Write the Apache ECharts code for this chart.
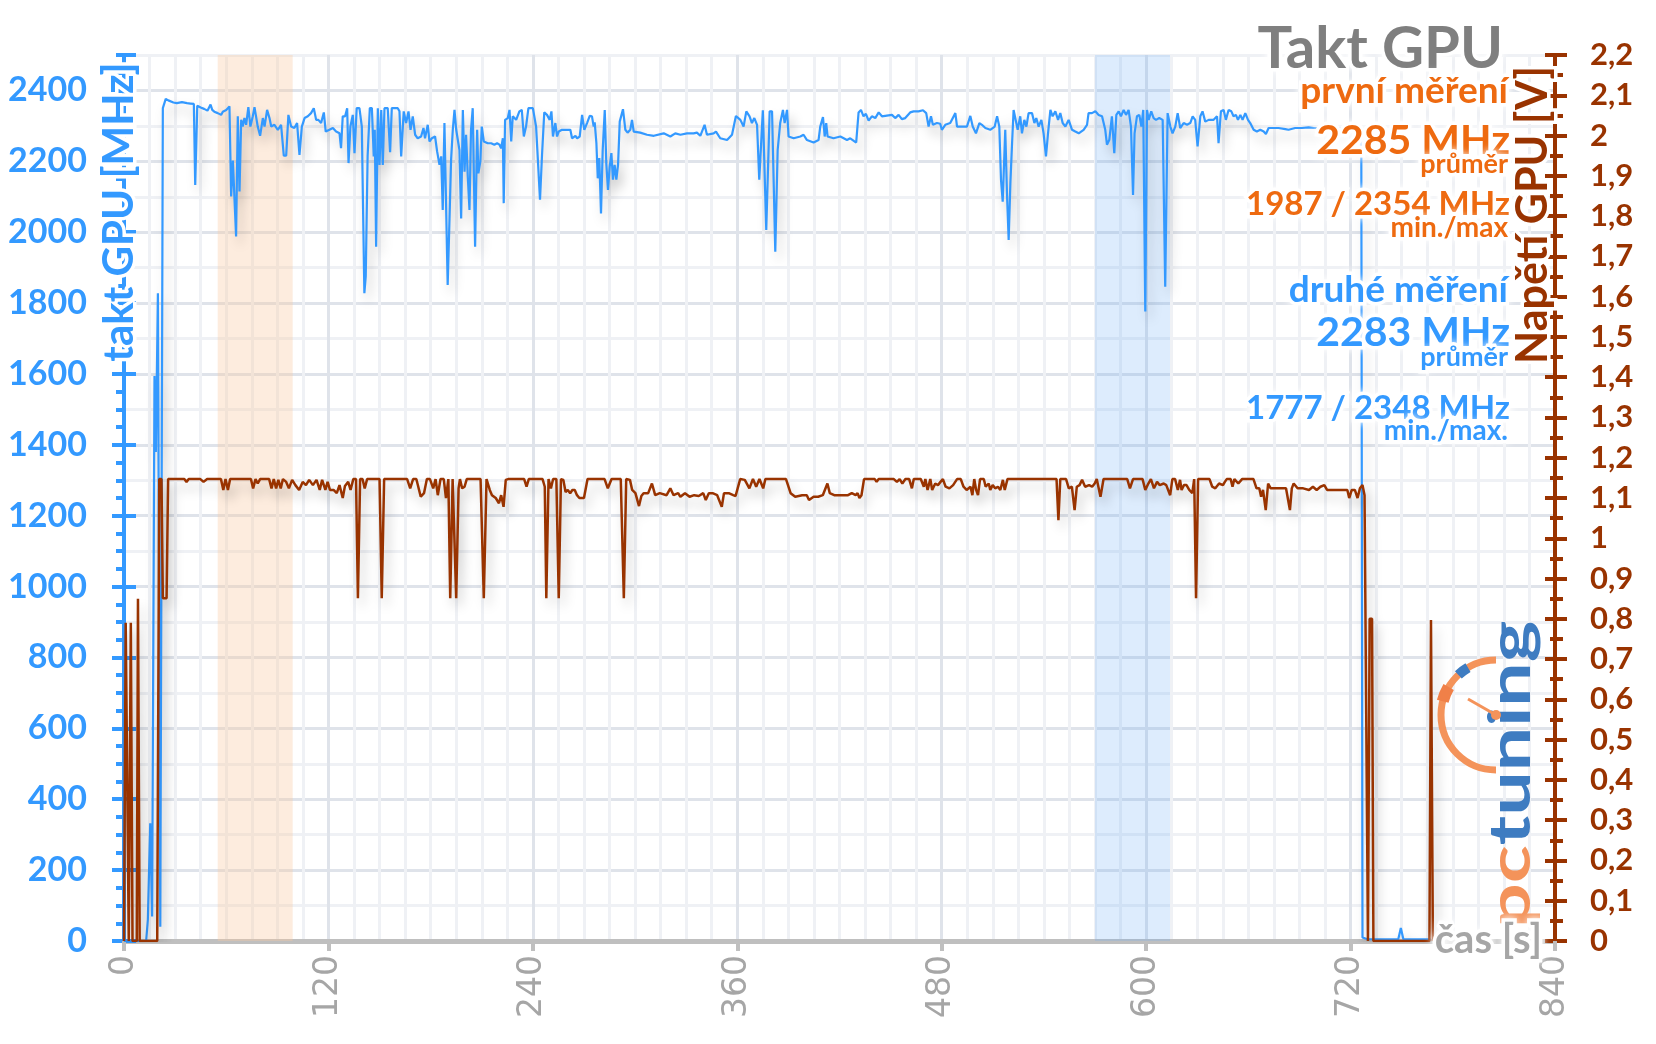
<!DOCTYPE html>
<html><head><meta charset="utf-8">
<script src="https://cdn.jsdelivr.net/npm/echarts@6/dist/echarts.min.js"></script>
<style>html,body{margin:0;padding:0;background:#fff}#c{width:1656px;height:1044px}</style>
</head><body><div id="c"></div>
<script>
// ---- data ----
const timeTicksInterval = 120;           // x axis: seconds
const clockTicksInterval = 200;          // left axis: MHz
const voltTicksInterval = 0.1;           // right axis: V
const orangeBand = [55, 99];             // highlighted span, first measurement
const blueBand = [570, 614];             // highlighted span, second measurement

// GPU clock, second measurement: [time s, MHz]
const clockSamples = [
[0,0],[13,0],[14,60],[15.4,332],[16.5,69],[17.9,1594],[18.7,1380],[19.9,1828],[21.3,40],[22.8,2350],[24.5,2376],[26,2372],[27,2367],[29,2366],[31,2364],[32,2360],[34,2367],[37,2364],[39,2363],[41,2362],[41.8,2133],[43,2357],[45,2352],[47,2348],[49,2343],[50.8,2360],[51.8,2345],[53,2340],[55,2336],[57,2331],[58,2340],[59,2336],[60,2345],[61,2350],[61.9,2355],[62.9,2101],[63.9,2202],[64.9,2202],[65.8,1988],[66.8,2327],[67.8,2115],[68.8,2317],[69.7,2298],[70.7,2322],[71.7,2303],[73,2353],[74.2,2298],[75.6,2327],[76.6,2353],[78.5,2298],[79.9,2272],[81.5,2322],[82.5,2298],[84,2345],[85.4,2322],[86.4,2298],[88.3,2303],[90.3,2289],[92.2,2303],[93.8,2216],[95.2,2216],[96.5,2331],[98.1,2298],[100,2294],[101.6,2308],[103,2218],[104.4,2298],[106,2322],[107.9,2327],[109.8,2336],[111.4,2350],[112.8,2317],[114.1,2317],[115.7,2308],[117.3,2338],[118.4,2284],[120.6,2289],[122.6,2294],[124.5,2284],[126.5,2279],[127.4,2237],[128.4,2327],[129.8,2327],[131,2350],[131.8,2195],[132.9,2298],[134.3,2331],[135.3,2223],[136.6,2350],[138.2,2350],[139.6,2298],[140.4,2044],[141.1,1828],[141.9,1875],[143,2214],[144.3,2350],[145.5,2350],[146.6,2214],[147.2,2289],[148,1959],[149,2350],[150,2190],[151,2345],[151.9,2190],[152.9,2350],[154.8,2350],[156.2,2226],[157.2,2350],[160.7,2350],[161.7,2341],[162.7,2214],[164.2,2341],[165.6,2308],[167,2341],[168.2,2289],[169.5,2327],[170.9,2275],[172.4,2265],[174.4,2270],[175.8,2294],[176.7,2265],[178.3,2303],[179.3,2256],[180.7,2265],[182.6,2270],[183.8,2228],[185.2,2190],[186.2,2214],[187.1,2063],[188.1,2308],[189.1,2312],[190,1851],[191,2025],[192,2204],[193,2289],[194,2345],[195,2289],[196,2284],[196.9,2232],[197.9,2039],[198.9,2345],[199.9,2171],[200.8,2275],[201.8,2157],[202.8,2063],[203.7,2289],[204.7,2350],[206.1,1959],[207.3,2289],[208,2166],[209.2,2200],[210,2298],[211.2,2256],[213.5,2251],[215.5,2251],[217.4,2247],[219,2251],[220.4,2247],[221.4,2237],[222.4,2265],[222.9,2082],[223.7,2317],[225.3,2322],[226.3,2345],[227.3,2256],[228.2,2327],[230.2,2317],[232.1,2341],[233.5,2345],[234.7,2270],[236,2298],[237.4,2350],[240,2350],[241.9,2298],[244.2,2092],[245.4,2220],[246.7,2338],[248.3,2331],[249.9,2317],[250.9,2341],[251.8,2270],[253.2,2308],[254.2,2270],[255.2,2284],[257.1,2289],[260,2289],[262,2289],[263,2265],[265,2272],[266,2265],[267.5,2270],[268.9,2331],[270.2,2289],[271.8,2308],[273.4,2328],[274.7,2327],[275.7,2298],[276.3,2310],[277.3,2251],[278.1,2152],[279,2209],[280,2053],[281,2232],[282.2,2345],[283.1,2195],[284.1,2119],[285.1,2185],[286.1,2223],[287,2148],[288,2190],[289,2148],[290,2190],[291,2312],[292,2308],[292.9,2347],[294.3,2289],[295.6,2281],[297.2,2289],[298.2,2317],[299.2,2284],[303,2281],[307,2275],[311,2272],[316.8,2279],[320.7,2270],[323.6,2279],[326.6,2275],[330.5,2279],[334.4,2279],[336.3,2281],[338.3,2272],[340.8,2303],[342.2,2275],[346.1,2279],[347.5,2284],[350,2265],[354,2260],[356.9,2275],[359.2,2328],[361.8,2317],[363.7,2298],[365.3,2341],[367.2,2327],[368.6,2308],[370,2322],[371.6,2303],[372.9,2148],[375,2344],[377,2006],[379,2341],[380.4,2341],[382.3,1945],[383.7,2232],[385.2,2308],[386.8,2345],[387.8,2308],[389.2,2345],[390.1,2270],[393.1,2265],[397,2270],[398.9,2275],[400.9,2260],[404.8,2253],[407.7,2260],[408.7,2298],[410.3,2325],[411.3,2270],[412.2,2308],[413,2270],[416.5,2265],[420.5,2270],[424.4,2260],[426.3,2265],[429.8,2253],[431.2,2338],[432.6,2345],[434.1,2327],[435.5,2334],[437.1,2315],[439,2327],[441,2322],[443,2338],[444.9,2327],[447.8,2329],[450.8,2331],[452.7,2322],[454.7,2331],[456.6,2319],[458.6,2322],[461.5,2338],[463.5,2341],[466.4,2341],[469,2344],[470.9,2336],[472.3,2298],[473.7,2327],[474.8,2303],[477.2,2308],[479.1,2306],[480.1,2289],[482.1,2303],[485,2308],[488,2336],[489,2298],[491.9,2298],[494.8,2298],[496.8,2328],[498.2,2298],[500.1,2279],[502.1,2308],[503.6,2303],[505.6,2294],[508.5,2289],[511.1,2298],[512.5,2327],[513.8,2298],[514.8,2148],[515.8,2086],[517.3,2289],[518.3,2110],[519.3,1978],[520.3,2138],[521.3,2251],[522.2,2345],[523.2,2345],[524.6,2289],[526.1,2327],[527.1,2279],[528.5,2317],[529.7,2298],[531,2336],[533,2336],[534.4,2308],[535.5,2322],[536.9,2298],[538.5,2317],[539.8,2279],[541.2,2214],[542.4,2279],[543.8,2345],[545.1,2327],[546.7,2341],[548.3,2317],[549.6,2336],[551,2308],[552.6,2298],[554.5,2317],[556.5,2289],[558.4,2284],[560.4,2279],[563.3,2289],[565.3,2303],[566.2,2336],[568.2,2336],[570.2,2341],[572.1,2331],[574.1,2327],[576,2289],[577,2247],[578.4,2261],[579.9,2327],[581.3,2223],[582.5,2331],[583.9,2341],[585.2,2327],[586.8,2345],[588.2,2331],[589.7,2345],[591.1,2298],[592.3,2105],[593.2,2279],[594.6,2327],[596,2331],[597.2,2298],[598.3,2345],[599.5,1776],[600.5,2345],[601.5,2317],[603,2341],[604.4,2322],[605.8,2317],[607.7,2322],[609.7,2317],[611.2,1846],[612.6,2336],[614.2,2298],[615.5,2279],[617.1,2298],[618.5,2336],[620,2294],[622,2308],[624,2303],[625.9,2308],[627.3,2327],[628.8,2317],[630.2,2242],[631.8,2327],[633.1,2341],[634.7,2312],[636.7,2317],[639.6,2317],[641.6,2327],[642.5,2251],[643.9,2341],[645.5,2345],[646.8,2317],[648.4,2345],[650,2341],[651.3,2327],[652.7,2331],[653.9,2317],[655.3,2331],[656.6,2317],[658.2,2336],[659.8,2317],[661.1,2308],[663.1,2289],[665,2284],[667,2289],[669,2284],[670.3,2277],[671.9,2294],[674.8,2294],[677.7,2294],[681.7,2291],[683.6,2289],[687.5,2294],[691.4,2294],[695.4,2296],[698.3,2294],[701.2,2294],[705.1,2294],[710,2292],[715,2293],[720,2291],[724.5,2290],[726.3,2240],[727,10],[730,5],[748,5],[749.5,37],[751,5],[767,5]
];

// GPU voltage: [time s, V]
const voltSamples = [
[0,0],[1,0.79],[2,0.79],[2.8,0],[4,0.79],[5,0],[7.5,0],[8.2,0.85],[9.2,0],[19.5,0],[20.7,1.147],[22,1.147],[22.8,0.851],[25,0.851],[25.9,1.147],[35.4,1.147],[36.7,1.14],[38,1.147],[44.8,1.147],[46.7,1.14],[48.8,1.147],[56.9,1.147],[58.3,1.12],[59.6,1.147],[61,1.12],[62.3,1.147],[74.5,1.147],[75.8,1.124],[77.2,1.147],[78.5,1.136],[79.9,1.147],[85.2,1.147],[86.6,1.124],[87.9,1.147],[89.3,1.124],[90.6,1.145],[92,1.124],[93.3,1.147],[95.2,1.14],[96.8,1.124],[98.7,1.145],[100.6,1.132],[102.8,1.12],[104.9,1.14],[106.8,1.132],[108.7,1.145],[110.9,1.132],[113,1.145],[114.9,1.12],[116.3,1.145],[118.2,1.12],[119.5,1.14],[120.9,1.12],[123,1.12],[124.9,1.112],[126.5,1.132],[128.4,1.10],[129.7,1.13],[131.6,1.14],[133,1.12],[134.6,1.147],[136.2,1.147],[137.3,0.851],[138.6,1.147],[140,1.147],[141.3,1.124],[142.7,1.147],[150,1.147],[151.3,0.851],[152.7,1.147],[166.2,1.147],[168,1.124],[169.7,1.147],[171.6,1.147],[174.2,1.103],[176.1,1.112],[177.8,1.147],[179.6,1.147],[181.5,1.124],[182.9,1.147],[184.2,1.107],[185.8,1.147],[187.7,1.147],[189,1.10],[190.4,1.147],[191.5,0.851],[192.9,1.147],[193.9,1.147],[195,0.851],[196.4,1.124],[197.2,1.147],[198.5,1.124],[199.9,1.128],[201.2,1.147],[209.3,1.147],[211.2,0.851],[212.8,1.147],[214.7,1.12],[216,1.107],[218.2,1.10],[220.1,1.087],[221.4,1.107],[222.8,1.078],[224.1,1.145],[225.5,1.147],[234.9,1.147],[236.3,1.128],[237.6,1.147],[245.7,1.147],[247,1.128],[247.9,0.851],[249.2,1.147],[250.6,1.124],[251.9,1.147],[253.8,1.147],[255.2,0.851],[256.5,1.147],[257.9,1.145],[259.2,1.115],[260.5,1.12],[261.9,1.112],[263.2,1.12],[264.6,1.12],[265.9,1.107],[267.3,1.10],[270,1.10],[272.1,1.147],[282.1,1.147],[284,1.124],[286.2,1.147],[291.6,1.147],[293.4,0.851],[294.8,1.147],[297,1.145],[298.3,1.12],[300.2,1.112],[302.3,1.08],[303.7,1.105],[305,1.112],[307.7,1.112],[309.9,1.136],[311.8,1.107],[314.5,1.112],[318.5,1.107],[320.7,1.124],[322.6,1.107],[325.3,1.112],[326.6,1.103],[329.3,1.112],[332,1.103],[334.7,1.107],[337.4,1.105],[340,1.112],[341.5,1.095],[343.3,1.112],[345.5,1.112],[348.2,1.107],[350.9,1.078],[352.2,1.112],[355,1.112],[357.6,1.107],[359,1.105],[361.7,1.147],[364.4,1.145],[367.1,1.124],[369.2,1.147],[371.1,1.128],[373,1.147],[375.2,1.124],[376.5,1.147],[388.6,1.147],[391.3,1.112],[394,1.103],[398.1,1.107],[400.8,1.107],[402.1,1.095],[404.8,1.103],[407.5,1.103],[410.2,1.107],[412.9,1.136],[414.3,1.112],[416.9,1.107],[421,1.107],[425,1.107],[427.2,1.112],[429.5,1.107],[430.6,1.112],[431.7,1.10],[432.9,1.107],[434.4,1.147],[440.7,1.147],[441.8,1.14],[443,1.147],[451.9,1.147],[453.7,1.14],[455.3,1.147],[456.9,1.136],[458.7,1.147],[460.9,1.147],[462.5,1.124],[463.6,1.147],[467.7,1.147],[469.5,1.128],[470.4,1.147],[471.7,1.12],[473.3,1.147],[474.4,1.12],[476.2,1.136],[477.8,1.132],[479.3,1.14],[480.7,1.147],[482.3,1.128],[484.5,1.124],[486.7,1.132],[489,1.147],[491.2,1.147],[492.8,1.128],[494.6,1.12],[496.9,1.128],[498,1.107],[499.1,1.147],[500.2,1.12],[501.3,1.107],[502.5,1.147],[504.7,1.147],[505.8,1.128],[507.6,1.136],[508.5,1.12],[509.9,1.132],[511.4,1.124],[513,1.128],[514.4,1.12],[515.9,1.145],[517,1.12],[518.6,1.147],[547.4,1.147],[548.5,1.045],[549.6,1.147],[553,1.147],[554.6,1.124],[556.4,1.128],[558,1.07],[559.3,1.128],[560.9,1.132],[562.4,1.145],[564.2,1.128],[566.5,1.132],[568.3,1.128],[569.8,1.136],[571,1.147],[573.2,1.103],[575,1.147],[588.9,1.147],[590.5,1.124],[592.3,1.147],[597.9,1.147],[599.5,1.12],[601.3,1.136],[602.8,1.147],[604.6,1.124],[606.4,1.14],[608,1.132],[610.3,1.136],[611.8,1.132],[614.1,1.107],[615.4,1.147],[617,1.147],[618.6,1.12],[619.9,1.145],[620.8,1.12],[622.2,1.132],[623.7,1.132],[625.3,1.12],[627.1,1.112],[628.2,1.147],[629.3,0.851],[630.5,1.147],[637.2,1.147],[638.8,1.128],[640.6,1.124],[642.8,1.136],[645.1,1.132],[646.2,1.14],[647.3,1.147],[649.6,1.147],[650.7,1.128],[651.8,1.147],[654.1,1.136],[656.3,1.147],[663,1.147],[664.8,1.124],[666.4,1.124],[667.5,1.103],[668.6,1.12],[670.2,1.07],[671.6,1.136],[673.1,1.124],[676.5,1.124],[678.8,1.124],[682.1,1.124],[683.2,1.12],[684.4,1.07],[685.5,1.124],[686.6,1.136],[688.9,1.124],[692.2,1.124],[695.6,1.12],[697.9,1.128],[700.1,1.12],[702.3,1.128],[704.6,1.132],[706.2,1.12],[710.2,1.12],[714.7,1.12],[718.1,1.12],[719.2,1.10],[720.7,1.12],[722.5,1.12],[724.1,1.10],[725.5,1.124],[727,1.132],[728.2,1.107],[729.3,0.5],[730.2,0],[731.2,0.8],[732.6,0.8],[733.4,0],[766.3,0],[767.2,0.797],[768.3,0]
];

// ---- chart ----
const BLUE = '#3399FF', BROWN = '#993300', GRAY = '#A6A6A6';
const ORANGE = '#EE6A10';
const F = 'Lato, "Open Sans", sans-serif';
const gridMajor = '#DFE3EA', gridMinor = '#EFF1F5';

function hiddenAxis(extra) {
  return Object.assign({type: 'value', axisLine: {show: false}, axisLabel: {show: false},
    axisTick: {show: false}, splitLine: {show: false}}, extra);
}
function txt(text, xRight, baseline, size, color, align) {
  return {type: 'text', z: 100, x: xRight, y: baseline - 0.32 * size,
    style: {text: text, fill: color, font: 'bold ' + size + 'px ' + F,
      align: align || 'right', verticalAlign: 'middle',
      stroke: '#fff', lineWidth: 7, textShadowColor: '#fff', textShadowBlur: 8}};
}

const chart = echarts.init(document.getElementById('c'), null, {renderer: 'canvas', width: 1656, height: 1044});
const xMinorColors = [gridMajor, gridMinor, gridMinor, gridMinor, gridMinor, gridMinor, gridMinor, gridMinor];
const shadow = {shadowColor: 'rgba(0,0,0,0.22)', shadowBlur: 12, shadowOffsetX: 4, shadowOffsetY: 8};

const option = {
  animation: false,
  backgroundColor: '#fff',
  grid: {left: 124, right: 101, top: 55, bottom: 103, containLabel: false, outerBoundsMode: 'none'},
  xAxis: [
    {type: 'value', min: 0, max: 840, interval: timeTicksInterval, position: 'bottom',
      axisLine: {show: true, onZero: false, lineStyle: {color: '#BFBFBF', width: 5}},
      axisTick: {show: true, length: 10, lineStyle: {color: '#BFBFBF', width: 4}},
      axisLabel: {rotate: 90, margin: 14, color: GRAY, fontSize: 33, fontFamily: '"DejaVu Sans"',
        formatter: function (v) { return String(v); }},
      splitLine: {show: false}},
    hiddenAxis({min: 0, max: 840, interval: 15, position: 'bottom',
      splitLine: {show: true, lineStyle: {color: xMinorColors, width: 3}}})
  ],
  yAxis: [
    {type: 'value', position: 'left', min: 0, max: 2500, interval: clockTicksInterval,
      axisLine: {show: true, lineStyle: {color: BLUE, width: 4}},
      axisTick: {show: true, length: 12, lineStyle: {color: BLUE, width: 4}},
      axisLabel: {color: BLUE, fontSize: 34, fontWeight: 'bold', fontFamily: F, margin: 37, showMaxLabel: false,
        formatter: function (v) { return String(v); }},
      splitLine: {show: false}},
    hiddenAxis({position: 'left', min: 0, max: 2500, interval: 50,
      axisTick: {show: true, length: 8, lineStyle: {color: BLUE, width: 4}}}),
    hiddenAxis({position: 'left', min: 0, max: 2500, interval: 200,
      axisTick: {show: true, inside: true, length: 12, lineStyle: {color: BLUE, width: 4}}}),
    {type: 'value', position: 'right', min: 0, max: 2.2, interval: voltTicksInterval,
      axisLine: {show: true, lineStyle: {color: BROWN, width: 4}},
      axisTick: {show: true, length: 12, lineStyle: {color: BROWN, width: 4}},
      axisLabel: {color: BROWN, fontSize: 31, fontWeight: 'bold', fontFamily: F, margin: 35,
        formatter: function (v) { return String(Math.round(v * 10) / 10).replace('.', ','); }},
      splitLine: {show: false}},
    hiddenAxis({position: 'right', min: 0, max: 2.2, interval: 0.05,
      axisTick: {show: true, length: 8, lineStyle: {color: BROWN, width: 4}}}),
    hiddenAxis({position: 'right', min: 0, max: 2.2, interval: 0.1,
      axisTick: {show: true, inside: true, length: 10, lineStyle: {color: BROWN, width: 4}}}),
    hiddenAxis({position: 'right', min: 0, max: 2.2, interval: 0.05,
      axisTick: {show: true, inside: true, length: 5, lineStyle: {color: BROWN, width: 4}}}),
    hiddenAxis({position: 'left', min: 0, max: 2500, interval: 100,
      splitLine: {show: true, lineStyle: {color: [gridMajor, gridMinor], width: 3}}})
  ],
  series: [
    {type: 'line', xAxisIndex: 0, yAxisIndex: 0, data: [], z: 1, silent: true,
      markArea: {silent: true, data: [
        [{xAxis: orangeBand[0], itemStyle: {color: 'rgba(250,200,160,0.35)'}}, {xAxis: orangeBand[1]}],
        [{xAxis: blueBand[0], itemStyle: {color: 'rgba(100,170,245,0.22)'}}, {xAxis: blueBand[1]}]
      ]}},
    {type: 'line', name: 'takt', xAxisIndex: 0, yAxisIndex: 0, data: clockSamples, symbol: 'none',
      z: 3, lineStyle: Object.assign({color: BLUE, width: 2.2}, shadow)},
    {type: 'line', name: 'napeti', xAxisIndex: 0, yAxisIndex: 3, data: voltSamples, symbol: 'none',
      z: 4, lineStyle: Object.assign({color: BROWN, width: 2.5}, shadow)}
  ],
  graphic: [
    txt('Takt GPU', 1503, 68, 58, '#7F7F7F'),
    txt('první měření', 1508, 103, 37, ORANGE),
    txt('2285 MHz', 1510, 154, 41, ORANGE),
    txt('průměr', 1508, 173, 27, ORANGE),
    txt('1987 / 2354 MHz', 1510, 215, 33, ORANGE),
    txt('min./max', 1508, 237, 28, ORANGE),
    txt('druhé měření', 1508, 302, 37, BLUE),
    txt('2283 MHz', 1510, 346, 41, BLUE),
    txt('průměr', 1508, 366, 27, BLUE),
    txt('1777 / 2348 MHz', 1510, 419, 33, BLUE),
    txt('min./max.', 1508, 440, 28, BLUE),
    txt('čas [s]', 1542, 953, 40, GRAY),
    {type: 'text', z: 100, x: 119, y: 212, rotation: Math.PI / 2,
      style: {text: 'takt GPU [MHz]', fill: BLUE, font: 'bold 42px ' + F, align: 'center', verticalAlign: 'middle',
        stroke: '#fff', lineWidth: 7}},
    {type: 'text', z: 100, x: 1533, y: 215, rotation: Math.PI / 2,
      style: {text: 'Napětí GPU [V]', fill: BROWN, font: 'bold 43px ' + F, align: 'center', verticalAlign: 'middle',
        stroke: '#fff', lineWidth: 7}},
    // pctuning logo
    {type: 'arc', z: 90, shape: {cx: 1496, cy: 715, r: 55, startAngle: Math.PI / 2, endAngle: Math.PI * 1.5, clockwise: true},
      style: {stroke: '#F4935A', lineWidth: 7, fill: null}},
    {type: 'arc', z: 91, shape: {cx: 1496, cy: 715, r: 55, startAngle: Math.PI * 1.08, endAngle: Math.PI * 1.17, clockwise: true},
      style: {stroke: '#F08048', lineWidth: 12, fill: null}},
    {type: 'arc', z: 91, shape: {cx: 1496, cy: 715, r: 55, startAngle: Math.PI * 1.26, endAngle: Math.PI * 1.33, clockwise: true},
      style: {stroke: '#3E7CC1', lineWidth: 10, fill: null}},
    {type: 'line', z: 91, shape: {x1: 1468, y1: 699, x2: 1496, y2: 715}, style: {stroke: '#F4935A', lineWidth: 3}},
    {type: 'circle', z: 91, shape: {cx: 1496, cy: 715, r: 5}, style: {fill: '#F4935A'}},
    {type: 'text', z: 90, x: 1511, y: 928, rotation: Math.PI / 2, scaleX: 1.36,
      style: {text: '{a|pc}{b|tuning}', align: 'left', verticalAlign: 'middle',
        rich: {a: {fill: '#F4935A', font: 'bold 58px ' + F}, b: {fill: '#3E7CC1', font: 'bold 58px ' + F}}}}
  ]
};
chart.setOption(option);
</script>
</body></html>
